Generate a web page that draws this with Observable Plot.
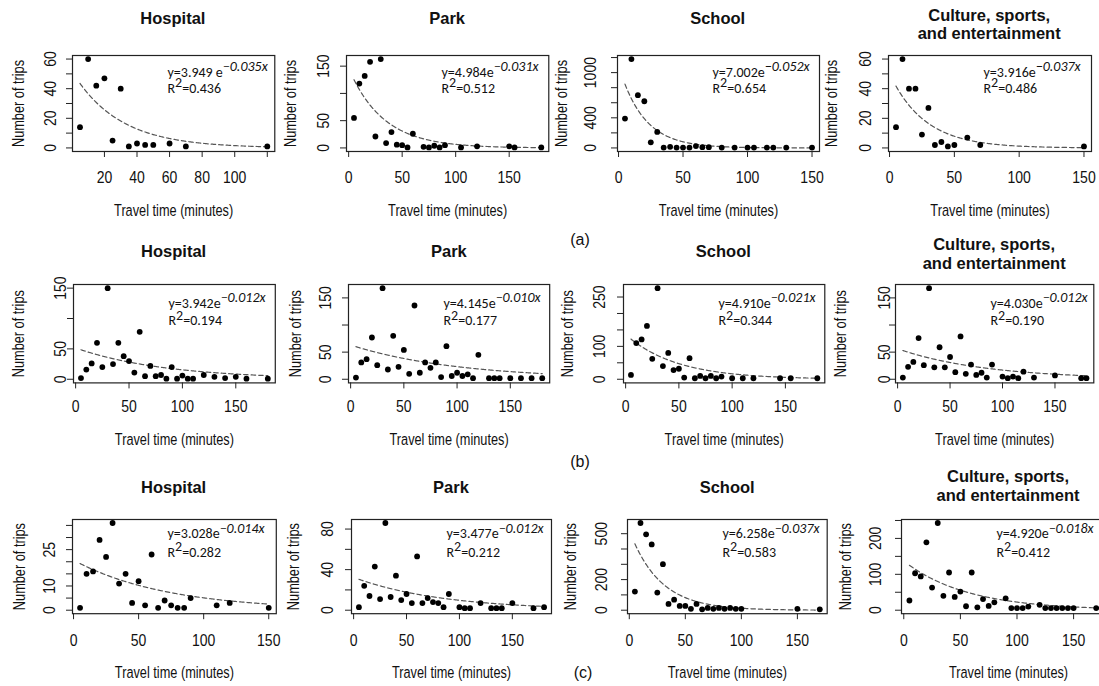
<!DOCTYPE html>
<html><head><meta charset="utf-8">
<script src="https://cdn.jsdelivr.net/npm/d3@7"></script>
<script src="https://cdn.jsdelivr.net/npm/@observablehq/plot@0.6"></script>
<style>
html,body{margin:0;padding:0;background:#fff;overflow:hidden;}
#root{position:relative;width:1099px;height:686px;overflow:hidden;background:#fff;}
.ttl{position:absolute;font-family:'Liberation Sans',Arial,sans-serif;font-weight:bold;font-size:16.5px;line-height:1;white-space:nowrap;transform:translate(-50%,-50%);color:#111;}
.grp{position:absolute;font-family:'Liberation Sans',Arial,sans-serif;font-size:16px;line-height:1;transform:translate(-50%,-50%);color:#111;}
.pnl{position:absolute;}
.pnl svg{max-width:none !important;}
</style></head><body><div id="root"></div>
<script>
// ---------------- DATA ----------------
const categories = ["Hospital", "Park", "School", "Culture, sports,\nand entertainment"];
const groups = ["(a)", "(b)", "(c)"];
const xTitle = "Travel time (minutes)";
const yTitle = "Number of trips";

const a_hospital_time = [5,10,15,20,25,30,35,40,45,50,60,70,120];
const a_hospital_trips = [14,60,42,47,5,40,1,3,2,2,3,1,1];
const a_park_time = [5,10,15,20,25,30,35,40,45,50,55,60,70,75,80,85,90,105,120,150,155,180];
const a_park_trips = [55,118,132,158,21,163,9,29,6,5,1,26,2,1,4,1,5,1,3,3,1,1];
const a_school_time = [5,10,15,20,25,30,35,40,45,50,55,60,65,70,80,90,100,105,115,120,130,150];
const a_school_trips = [390,1180,700,620,75,212,5,15,5,5,5,25,10,10,5,5,5,5,5,5,5,5];
const a_culture_time = [5,10,15,20,25,30,35,40,45,50,60,70,150];
const a_culture_trips = [14,60,40,40,9,27,2,4,1,2,7,2,1];

const b_hospital_time = [5,10,15,20,25,30,35,40,45,50,55,60,65,70,75,80,85,90,95,100,105,110,120,130,140,150,160,180];
const b_hospital_trips = [2,16,26,60,20,150,25,60,38,30,11,78,5,22,5,7,1,20,1,6,1,1,7,4,2,4,1,1];
const b_park_time = [5,10,15,20,25,30,35,40,45,50,55,60,65,70,75,80,85,90,95,100,105,110,115,120,130,135,140,150,160,170,180];
const b_park_trips = [3,31,37,77,26,168,18,80,23,54,10,136,12,31,21,31,4,61,6,12,6,9,2,45,2,2,2,2,2,2,2];
const b_school_time = [5,10,15,20,25,30,35,40,45,50,55,60,65,70,75,80,85,90,100,110,120,145,155,180];
const b_school_trips = [13,110,121,162,62,277,40,80,28,32,5,64,3,10,3,10,3,8,3,3,3,3,3,3];
const b_culture_time = [5,10,15,20,25,30,35,40,45,50,55,60,65,70,75,80,85,90,100,105,110,115,120,130,150,175,180];
const b_culture_trips = [3,23,32,76,26,168,22,59,22,41,13,79,10,27,8,12,3,27,5,2,5,2,14,3,7,2,2];

const c_hospital_time = [5,10,15,20,25,30,35,40,45,50,55,60,65,70,75,80,85,90,110,120,150];
const c_hospital_trips = [1,15,16,29,22,36,11,15,3,12,2,23,1,4,2,1,1,5,2,3,1];
const c_park_time = [5,10,15,20,25,30,35,40,45,50,55,60,65,70,75,80,85,90,100,105,110,120,130,135,140,150,170,180];
const c_park_trips = [3,24,14,43,11,86,13,34,10,16,7,53,7,12,8,7,3,16,3,2,2,7,2,2,2,7,2,3];
const c_school_time = [5,10,15,20,25,30,35,40,45,50,55,60,65,70,75,80,85,90,95,100,150,170];
const c_school_trips = [122,570,496,430,115,301,41,69,28,28,9,41,6,15,9,15,9,15,9,9,9,6];
const c_culture_time = [5,10,15,20,25,30,35,40,45,50,55,60,65,70,75,80,90,95,100,105,110,120,125,130,135,140,145,150,170,180];
const c_culture_trips = [27,103,94,189,63,243,40,105,37,52,11,105,8,31,12,22,33,6,6,6,10,15,6,6,6,6,6,6,6,6];

// fitted model y = exp(intercept - rate * x)
const intercepts = [[3.949,4.984,7.002,3.916],[3.942,4.145,4.910,4.030],[3.028,3.477,6.258,4.920]];
const rates      = [[0.035,0.031,0.052,0.037],[0.012,0.010,0.021,0.012],[0.014,0.012,0.037,0.018]];
const rSquared   = [["0.436","0.512","0.654","0.486"],["0.194","0.177","0.344","0.190"],["0.282","0.212","0.583","0.412"]];
const eqBase     = [["y=3.949 e","y=4.984e","y=7.002e","y=3.916e"],["y=3.942e","y=4.145e","y=4.910e","y=4.030e"],["y=3.028e","y=3.477e","y=6.258e","y=4.920e"]];
const eqExp      = [["\u22120.035x","\u22120.031x","\u22120.052x","\u22120.037x"],["\u22120.012x","\u22120.010x","\u22120.021x","\u22120.012x"],["\u22120.014x","\u22120.012x","\u22120.037x","\u22120.018x"]];

// tick values and tick labels
const xTicksDefault = [0,50,100,150];
const xTicks_a_hospital = [20,40,60,80,100,120];
const xLabels_a_hospital = [20,40,60,80,100];
const yTicks = [
  [[0,10,20,30,40,50,60],[0,50,100,150],[0,200,400,600,800,1000,1200],[0,10,20,30,40,50,60]],
  [[0,50,100,150],[0,50,100,150],[0,50,100,150,200,250],[0,50,100,150]],
  [[0,5,10,15,20,25,30,35],[0,20,40,60,80],[0,100,200,300,400,500],[0,50,100,150,200,250]]
];
const yLabels = [
  [[0,20,40,60],[0,50,150],[0,400,1000],[0,20,40,60]],
  [[0,50,150],[0,50,150],[0,100,250],[0,50,150]],
  [[0,10,25],[0,40,80],[0,200,500],[0,100,200]]
];

const times = [
  [a_hospital_time,a_park_time,a_school_time,a_culture_time],
  [b_hospital_time,b_park_time,b_school_time,b_culture_time],
  [c_hospital_time,c_park_time,c_school_time,c_culture_time]];
const trips = [
  [a_hospital_trips,a_park_trips,a_school_trips,a_culture_trips],
  [b_hospital_trips,b_park_trips,b_school_trips,b_culture_trips],
  [c_hospital_trips,c_park_trips,c_school_trips,c_culture_trips]];

// ---------------- LAYOUT (page pixels) ----------------
const colBox = [
  [[71.7,274],[346,548.3],[616.7,818.7],[887.7,1090.7]],
  [[72.7,274.5],[348.3,549.5],[622.7,824],[895,1093.3]],
  [[71.7,275.5],[351,551],[627.3,827],[901,1115]]];
const rowBox = [[55,151],[284.3,382.7],[518.5,612.7]];
const yTickOff = [[22,23,27,23],[13,23,24,11],[23,24,26,26]];
const yLabOff = [[54,56,56,57],[55,53,56,55],[53,58,57,56]];
const xTickOff = [26,24,26.6];
const xLabOff = [59,57,59];
const titleY1 = [18,251,487];
const titleY2 = [[15,33],[244,263],[476,495]];
const eqDy = [17,19,14.3];
const r2Dy = [33,36.4,32.7];
const groupPos = [[580,240],[580,462],[583,673]];
const TICK_FS = 16.5, TICK_SQ = 0.85;
const TITLE_FS = 17, TITLE_SQ = 0.75;

const SANS = "'Liberation Sans',Arial,sans-serif";
const EQFONT = "Carlito, Lato, 'Open Sans', sans-serif";
const root = document.getElementById("root");

function drawPanel(r, c) {
  const [bl, br] = colBox[r][c];
  const [bt, bb] = rowBox[r];
  const ML = 75, MR = 6, MT = 6, MB = 75;
  const bw = br - bl, bh = bb - bt;
  const xs = times[r][c], ys = trips[r][c];
  const pts = xs.map((x, i) => ({x, y: ys[i]}));
  const xmin = d3.min(xs), xmax = d3.max(xs);
  const xe = 0.04 * (xmax - xmin);
  const ymin = Math.min(0, d3.min(ys)), ymax = d3.max(ys);
  const ye = 0.04 * (ymax - ymin);
  const a = intercepts[r][c], b = rates[r][c];
  const fit = d3.range(xmin, xmax + 0.001, 0.5).map(x => ({x, y: Math.exp(a - b * x)}));
  const xt = (r === 0 && c === 0) ? xTicks_a_hospital : xTicksDefault;
  const xl = (r === 0 && c === 0) ? xLabels_a_hospital : xTicksDefault;

  const svg = Plot.plot({
    width: bw + ML + MR, height: bh + MT + MB,
    marginLeft: ML, marginRight: MR, marginTop: MT, marginBottom: MB,
    style: {background: "transparent", fontFamily: SANS, color: "#111", overflow: "visible", maxWidth: "none"},
    x: {domain: [xmin - xe, xmax + xe], axis: null},
    y: {domain: [ymin - ye, ymax + ye], axis: null},
    marks: [
      Plot.ruleX(xt, {x: d => d, insetTop: bh, insetBottom: -6, stroke: "#222", strokeWidth: 1}),
      Plot.ruleY(yTicks[r][c], {y: d => d, insetRight: bw, insetLeft: -6, stroke: "#222", strokeWidth: 1}),
      Plot.text(xl, {x: d => d, text: d => String(d), frameAnchor: "bottom", dy: xTickOff[r], lineAnchor: "middle", fontSize: TICK_FS, fill: "#111"}),
      Plot.text(yLabels[r][c], {y: d => d, text: d => String(d), frameAnchor: "left", dx: -yTickOff[r][c], rotate: -90, textAnchor: "middle", lineAnchor: "middle", fontSize: TICK_FS, fill: "#111"}),
      Plot.text([xTitle], {text: d => d, frameAnchor: "bottom", dy: xLabOff[r], lineAnchor: "middle", fontSize: TITLE_FS, fill: "#111"}),
      Plot.text([yTitle], {text: d => d, frameAnchor: "left", dx: -yLabOff[r][c], rotate: -90, textAnchor: "middle", lineAnchor: "middle", fontSize: TITLE_FS, fill: "#111"}),
      Plot.line(fit, {x: "x", y: "y", stroke: "#555", strokeWidth: 1.2, strokeDasharray: "4.5,3"}),
      Plot.dot(pts, {x: "x", y: "y", r: 2.9, fill: "#000", stroke: "none"}),
      Plot.frame({stroke: "#222", strokeWidth: 1.2}),
      Plot.text([eqBase[r][c] + "|" + eqExp[r][c]], {text: d => d, frameAnchor: "top-left", dx: 95, dy: eqDy[r], textAnchor: "start", lineAnchor: "middle", fontFamily: EQFONT, fontSize: 14, fill: "#111"}),
      Plot.text(["R|2|=" + rSquared[r][c]], {text: d => d, frameAnchor: "top-left", dx: 95, dy: r2Dy[r], textAnchor: "start", lineAnchor: "middle", fontFamily: EQFONT, fontSize: 14, fill: "#111"})
    ]
  });
  svg.style.maxWidth = "none";

  // superscripts
  d3.select(svg).selectAll("text").each(function() {
    const s = this.textContent;
    if (!s.includes("|")) return;
    const parts = s.split("|");
    const t = d3.select(this);
    t.text(null);
    t.attr("data-eq", "1");
    parts.forEach((p, i) => {
      const ts = t.append("tspan").text(p);
      if (i % 2 === 1) {
        ts.attr("dy", "-0.4em");
        if (p.length > 1) ts.attr("font-style", "italic");
      } else if (i > 0) ts.attr("dy", "0.4em");
    });
  });

  const div = document.createElement("div");
  div.className = "pnl";
  div.style.left = (bl - ML) + "px";
  div.style.top = (bt - MT) + "px";
  div.style.width = (bw + ML + MR) + "px";
  div.appendChild(svg);
  root.appendChild(div);

  // R-style narrow axis text: compress horizontally
  svg.querySelectorAll("text").forEach(t => {
    if (t.getAttribute("data-eq")) return;
    const len = t.getComputedTextLength();
    const fs = parseFloat(getComputedStyle(t).fontSize);
    const sq = fs >= TITLE_FS - 0.01 ? TITLE_SQ : TICK_SQ;
    if (len > 0) {
      t.setAttribute("textLength", (len * sq).toFixed(2));
      t.setAttribute("lengthAdjust", "spacingAndGlyphs");
    }
  });

  // title
  const lines = categories[c].split("\n");
  const cx = (bl + br) / 2;
  lines.forEach((ln, i) => {
    const d = document.createElement("div");
    d.className = "ttl";
    d.textContent = ln;
    d.style.left = cx + "px";
    d.style.top = (lines.length === 1 ? titleY1[r] : titleY2[r][i]) + "px";
    root.appendChild(d);
  });
}

for (let r = 0; r < 3; r++) for (let c = 0; c < 4; c++) drawPanel(r, c);
groups.forEach((g, i) => {
  const d = document.createElement("div");
  d.className = "grp";
  d.textContent = g;
  d.style.left = groupPos[i][0] + "px";
  d.style.top = groupPos[i][1] + "px";
  root.appendChild(d);
});
</script></body></html>
